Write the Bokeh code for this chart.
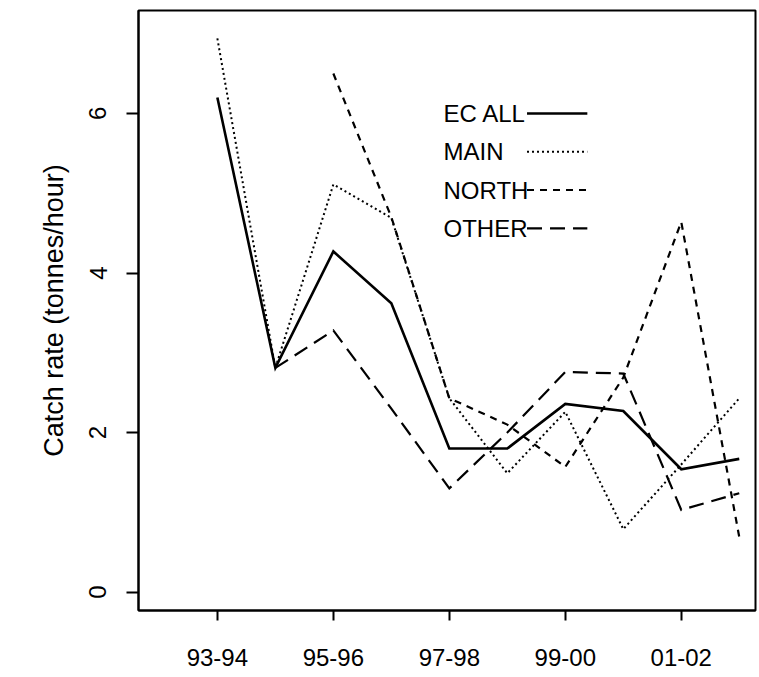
import math
from bokeh.plotting import figure
from bokeh.models import Range1d, FixedTicker
from bokeh.core.properties import value
from bokeh.embed import file_html
from bokeh.resources import INLINE

nan = float("nan")

# ---- data ----
seasons = ["93-94", "94-95", "95-96", "96-97", "97-98",
           "98-99", "99-00", "00-01", "01-02", "02-03"]
ec_all = [6.20, 2.81, 4.27, 3.62, 1.80, 1.80, 2.36, 2.27, 1.54, 1.67]
main = [6.94, 2.81, 5.11, 4.69, 2.43, 1.49, 2.26, 0.79, 1.60, 2.43]
north = [nan, nan, 6.50, 4.70, 2.43, 2.10, 1.57, 2.69, 4.64, 0.69]
other = [nan, 2.81, 3.28, 2.30, 1.30, 2.00, 2.76, 2.74, 1.03, 1.24]
x_tick_labels = ["93-94", "95-96", "97-98", "99-00", "01-02"]
y_tick_values = [0, 2, 4, 6]
series_names = ["EC ALL", "MAIN", "NORTH", "OTHER"]

# ---- styles ----
FONT = "Liberation Sans"
styles = {
    "EC ALL": dict(line_width=2.6, line_dash="solid"),
    "MAIN": dict(line_width=2.0, line_dash="2 3"),
    "NORTH": dict(line_width=2.2, line_dash="7 6"),
    "OTHER": dict(line_width=2.2, line_dash="15 8"),
}
series = {"EC ALL": ec_all, "MAIN": main, "NORTH": north, "OTHER": other}

xs = list(range(len(seasons)))

p = figure(width=759, height=677, output_backend="svg", toolbar_location=None,
           x_range=Range1d(-1.36, 9.28), y_range=Range1d(-0.23, 7.29),
           min_border_left=138, min_border_right=4, min_border_top=10,
           min_border_bottom=67)
p.background_fill_color = "white"
p.border_fill_color = "white"
p.grid.visible = False
p.outline_line_color = "black"
p.outline_line_width = 2
p.outline_line_alpha = 1

for name in series_names:
    p.line(xs, series[name], line_color="black", line_join="miter", **styles[name])

# legend: label followed by a line sample, as in the reference
leg_text_x = 3.9
leg_line_x0, leg_line_x1 = 5.34, 6.38
leg_top, leg_step = 6.0, 0.48
rows = [leg_top - i * leg_step for i in range(len(series_names))]
p.text(x=[leg_text_x] * len(series_names), y=rows, text=series_names,
       text_font=value(FONT), text_font_size="24px", text_color="black",
       text_baseline="middle", text_align="left")
for name, r in zip(series_names, rows):
    p.segment(x0=[leg_line_x0], x1=[leg_line_x1], y0=[r], y1=[r],
              line_color="black", **styles[name])

# x axis
xa = p.xaxis[0]
xa.ticker = FixedTicker(ticks=[2 * i for i in range(len(x_tick_labels))])
xa.major_label_overrides = {2 * i: lab for i, lab in enumerate(x_tick_labels)}
xa.minor_tick_line_color = None
xa.major_tick_in = 0
xa.major_tick_out = 10
xa.major_tick_line_width = 2
xa.axis_line_width = 2
xa.major_label_text_font = FONT
xa.major_label_text_font_size = "24px"
xa.major_label_text_color = "black"
xa.major_label_standoff = 28

# y axis
ya = p.yaxis[0]
ya.ticker = FixedTicker(ticks=y_tick_values)
ya.minor_tick_line_color = None
ya.major_tick_in = 0
ya.major_tick_out = 12
ya.major_tick_line_width = 2
ya.axis_line_width = 2
ya.major_label_orientation = "vertical"
ya.major_label_text_font = FONT
ya.major_label_text_font_size = "24px"
ya.major_label_text_color = "black"
ya.major_label_standoff = 20
ya.axis_label = "Catch rate (tonnes/hour)"
ya.axis_label_text_font = FONT
ya.axis_label_text_font_size = "27px"
ya.axis_label_text_font_style = "normal"
ya.axis_label_text_color = "black"
ya.axis_label_standoff = 18

open("out.html", "w").write(file_html(p, INLINE))
